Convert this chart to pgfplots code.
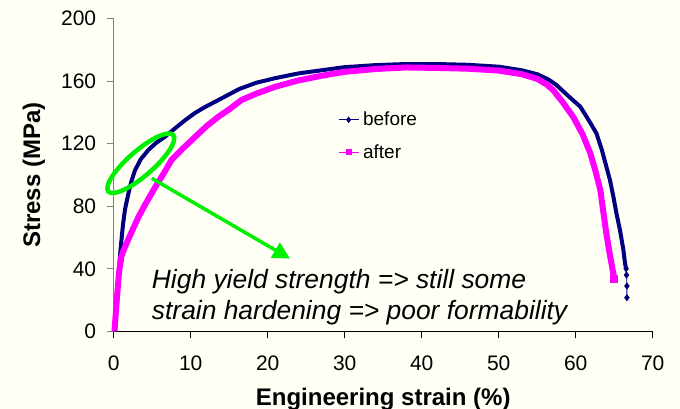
\documentclass[border=0pt]{standalone}
\usepackage{fontspec}
\setmainfont{Liberation Sans}
\usepackage{pgfplots}
\pgfplotsset{compat=1.18}
\usetikzlibrary{arrows.meta,shapes.geometric}
\definecolor{navy}{RGB}{0,0,128}
\definecolor{mag}{RGB}{255,0,255}
\definecolor{grn}{RGB}{0,240,0}
\definecolor{bg}{RGB}{255,255,246}
\begin{document}
\begin{tikzpicture}
\path[use as bounding box, fill=bg] (-113.7bp,-77.7bp) rectangle (566.3bp,331.3bp);
\begin{axis}[
 at={(0,0)}, anchor=south west,
 scale only axis, width=539bp, height=312.6bp,
 xmin=0, xmax=70, ymin=0, ymax=200,
 xtick={0,10,...,70}, ytick={0,40,...,200},
 axis lines=left, axis line style={-, line width=1.2bp},
 x axis line style={black}, y axis line style={gray},
 tick align=outside, major tick length=7bp,
 xtick style={black, line width=1.2bp}, ytick style={gray, line width=1.2bp},
 tick label style={font=\fontsize{21bp}{24bp}\selectfont},
 xticklabel style={yshift=-14bp},
 yticklabel style={xshift=-7bp},
 /pgf/number format/assume math mode=true,
 xlabel={\textbf{Engineering strain (\%)}},
 ylabel={\textbf{Stress (MPa)}},
 label style={font=\fontsize{24bp}{28bp}\selectfont},
 xlabel style={at={(axis description cs:0.5,-0.2358)}, anchor=base},
 ylabel style={at={(axis description cs:-0.1479,0.5)}, anchor=center},
 clip=false,
 legend style={draw=none, fill=none, at={(axis description cs:0.416,0.708)}, anchor=north west,
   font=\fontsize{19bp}{22bp}\selectfont, row sep=13bp, inner sep=0pt, cells={anchor=west},
   nodes={inner xsep=4bp}},
 legend image code/.code={\draw[mark repeat=2,mark phase=2] plot coordinates {(0bp,0bp) (10bp,0bp) (20bp,0bp)};},
]
\addplot[navy, line width=4bp, forget plot] coordinates {
(0.1,0) (0.4,20) (0.7,40) (0.85,50) (1.0,58) (1.2,68) (1.47,78) (1.9,88) (2.3,96) (2.77,103)
(3.5,110) (4.5,116) (5.5,120.5) (6.66,124.5) (8,130) (9.26,135) (10.5,139.5) (11.86,143.5)
(14,149) (16.3,155) (18.5,159) (21,162) (24,165) (27,167) (30,169) (34,170.3) (38,171)
(42,171) (46,170.5) (50,169.3) (53,167) (55,164.5) (56.5,161) (57.5,157.6) (58.5,153)
(59.5,148.5) (60.6,143.7) (61.7,135) (62.7,126.6) (63.4,116) (64.0,105) (64.45,96.8)
(64.9,86) (65.3,75.3) (65.75,64.8) (66.2,52) (66.4,43.7) (66.55,40)
};
\addplot[navy, line width=0.8bp, mark=diamond*, mark size=3bp, forget plot] coordinates {
(66.55,40) (66.6,36) (66.65,29) (66.65,21.5)
};
\addplot[mag, line width=6bp, forget plot] coordinates {
(0.1,0) (0.4,20) (0.7,38) (1.0,48) (1.3,52) (2.0,60) (3.2,73) (4.3,83) (5.4,92.3) (6.5,101)
(7.5,109.6) (9,117) (10.6,124.5) (12,131) (13.6,137.3) (15,142) (16.6,148) (18.5,152)
(21,156.5) (24,160.5) (27,163.5) (30,166) (34,167.8) (38,168.8) (42,168.5) (46,168)
(50,166.8) (53,164.5) (55,161.5) (56.2,158) (57.1,154.2) (58.4,146) (59.7,137) (60.9,126)
(61.9,113.9) (62.6,102) (63.2,90.4) (63.6,76) (64.0,62) (64.4,50) (64.7,42) (64.95,35) (65.0,33.5)
};
\addplot[mag, only marks, mark=square*, mark size=3.5bp, forget plot] coordinates {(65.0,33.5)};
\addlegendimage{navy, line width=1bp, mark=diamond*, mark size=2.5bp}
\addlegendentry{before}
\addlegendimage{mag, line width=1bp, mark=square*, mark size=2.5bp}
\addlegendentry{after}
\node[draw=grn, line width=4.5bp, ellipse, minimum width=86bp, minimum height=25bp, inner sep=0pt, rotate=41] at (axis cs:3.52,107.5) {};
\draw[grn, line width=3.5bp, -{Triangle[length=17bp, width=17bp]}] (axis cs:4.94,97.9) -- (axis cs:22.9,46.5);
\node[anchor=base west, inner sep=0pt, font=\fontsize{26.4bp}{30bp}\selectfont\itshape] at (axis cs:4.94,27.7) {High yield strength => still some};
\node[anchor=base west, inner sep=0pt, font=\fontsize{26.4bp}{30bp}\selectfont\itshape] at (axis cs:4.94,7.7) {strain hardening => poor formability};
\end{axis}
\end{tikzpicture}
\end{document}
